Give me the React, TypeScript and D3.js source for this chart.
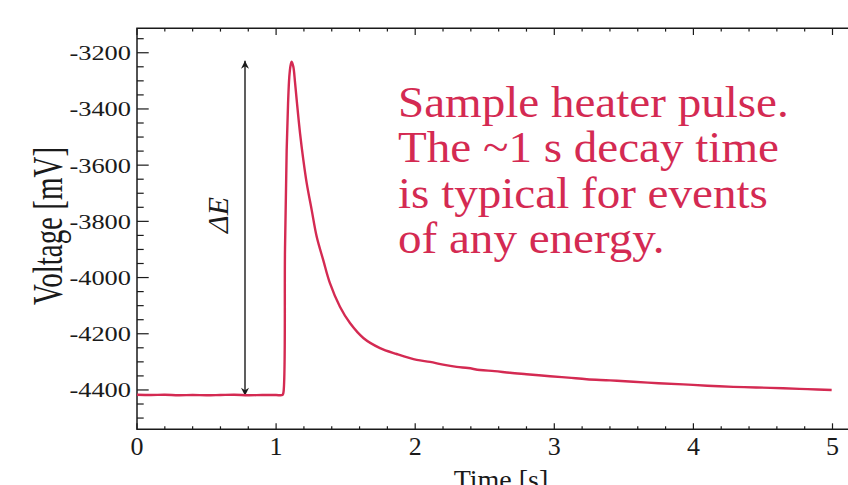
import { useEffect, useRef } from 'react'
import * as d3 from 'd3'

// heater pulse trace
const timeS = [
  0, 0.1, 0.2, 0.3, 0.4, 0.5, 0.6, 0.7, 0.8, 0.9, 1.0, 1.045,
  1.052, 1.064, 1.076, 1.086, 1.095, 1.104, 1.112, 1.124, 1.136, 1.148, 1.172, 1.196,
  1.22, 1.256, 1.292, 1.339, 1.387, 1.459, 1.531, 1.627, 1.747, 1.867, 2.011, 2.107,
  2.2, 2.298, 2.38, 2.466, 2.57, 2.682, 2.8, 2.969, 3.1, 3.233, 3.4, 3.568,
  3.75, 3.927, 4.1, 4.287, 4.45, 4.646, 4.82, 4.994,
]
const voltageMV = [
  -4417, -4418, -4417, -4419, -4418, -4419, -4418, -4417, -4419, -4418, -4418, -4418,
  -4411, -3900, -3546, -3380, -3285, -3245, -3232, -3250, -3305, -3368, -3486, -3582,
  -3664, -3760, -3855, -3938, -4020, -4104, -4162, -4215, -4251, -4272, -4293, -4300,
  -4310, -4318, -4322, -4329, -4333, -4339, -4344, -4351, -4356, -4362, -4366, -4371,
  -4376, -4380, -4385, -4389, -4391, -4394, -4397, -4400,
]

const xTicks = [0, 1, 2, 3, 4, 5]
const yTicks = [-4400, -4200, -4000, -3800, -3600, -3400, -3200]
const noteLines = [
  'Sample heater pulse.',
  'The ~1 s decay time',
  'is typical for events',
  'of any energy.',
]

const RED = '#d42a52'
const INK = '#1a1a1a'
const FONT = '"Liberation Serif", "Times New Roman", serif'

export default function App() {
  const ref = useRef<SVGSVGElement>(null)
  const width = 848
  const height = 485

  useEffect(() => {
    const svg = d3.select(ref.current)
    svg.selectAll('*').remove()

    const left = 137, top = 28.3, bottom = 429.3
    const x = d3.scaleLinear().domain([0, 5.2]).range([left, left + 5.2 * 139.1])
    const y = d3.scaleLinear().domain([-4540, -3113]).range([bottom, top])
    const right = x(5.2)

    const g = svg.append('g')

    // frame (left, bottom, top)
    g.append('path')
      .attr('d', `M${right},${top}H${left}V${bottom}H${right}`)
      .attr('fill', 'none').attr('stroke', INK).attr('stroke-width', 1.5)

    // x ticks, bottom and top, minor every 0.2
    const xMinor = d3.range(0, 5.2001, 0.2).map(v => +v.toFixed(1))
    xMinor.forEach(v => {
      const major = Math.abs(v - Math.round(v)) < 1e-6
      const px = x(v)
      g.append('line').attr('x1', px).attr('x2', px)
        .attr('y1', bottom).attr('y2', bottom - (major ? 6 : 3))
        .attr('stroke', INK).attr('stroke-width', 1.2)
      g.append('line').attr('x1', px).attr('x2', px)
        .attr('y1', top).attr('y2', top + (major ? 6.7 : 3.3))
        .attr('stroke', INK).attr('stroke-width', 1.2)
    })
    xTicks.forEach(v => {
      g.append('text')
        .attr('x', x(v)).attr('y', 455)
        .attr('text-anchor', 'middle')
        .style('font-family', FONT).style('font-size', '26px').style('fill', INK)
        .text(v)
    })

    // y ticks, minor every 50 mV
    d3.range(-4500, -3100, 50).forEach(v => {
      const major = v % 200 === 0
      const py = y(v)
      g.append('line').attr('x1', left).attr('x2', left + (major ? 11.7 : 6.7))
        .attr('y1', py).attr('y2', py)
        .attr('stroke', INK).attr('stroke-width', 1.2)
    })
    yTicks.forEach(v => {
      g.append('text')
        .attr('transform', `translate(131,${y(v) + 7.5}) scale(1.2,1)`)
        .attr('text-anchor', 'end')
        .style('font-family', FONT).style('font-size', '22px').style('fill', INK)
        .text(v)
    })

    // axis titles
    g.append('text')
      .attr('transform', `translate(62,226) scale(1.45,1) rotate(-90)`)
      .attr('text-anchor', 'middle')
      .style('font-family', FONT).style('font-size', '29px').style('fill', INK)
      .text('Voltage [mV]')
    g.append('text')
      .attr('x', 501).attr('y', 489)
      .attr('text-anchor', 'middle')
      .style('font-family', FONT).style('font-size', '28px').style('fill', INK)
      .text('Time [s]')

    // ΔE double arrow, from baseline to peak
    const defs = svg.append('defs')
    defs.append('marker')
      .attr('id', 'head').attr('viewBox', '0 0 10 10')
      .attr('refX', 10).attr('refY', 5)
      .attr('markerWidth', 10).attr('markerHeight', 8)
      .attr('markerUnits', 'userSpaceOnUse')
      .attr('orient', 'auto-start-reverse')
      .append('path').attr('d', 'M0,0L10,5L0,10L3,5Z').attr('fill', INK)
    const baseV = voltageMV[0]
    const peakV = d3.max(voltageMV) as number
    g.append('line')
      .attr('x1', 245).attr('x2', 245)
      .attr('y1', y(baseV) + 1).attr('y2', y(peakV) - 1)
      .attr('stroke', INK).attr('stroke-width', 1.4)
      .attr('marker-start', 'url(#head)').attr('marker-end', 'url(#head)')
    g.append('text')
      .attr('transform', 'translate(228,215) rotate(-90)')
      .attr('text-anchor', 'middle')
      .style('font-family', FONT).style('font-style', 'italic')
      .style('font-size', '30px').style('fill', INK)
      .text('ΔE')

    // trace
    const line = d3.line<number>()
      .x((_, i) => x(timeS[i]))
      .y(d => y(d))
      .curve(d3.curveCatmullRom.alpha(0.5))
    g.append('path')
      .datum(voltageMV)
      .attr('d', line)
      .attr('fill', 'none').attr('stroke', RED).attr('stroke-width', 2.4)
      .attr('stroke-linejoin', 'round')

    // note
    const note = g.append('text')
      .attr('transform', 'translate(398,0) scale(1.07,1)')
      .style('font-family', FONT).style('font-size', '44px').style('fill', RED)
    noteLines.forEach((t, i) => {
      note.append('tspan').attr('x', 0).attr('y', 117 + i * 45.3).text(t)
    })
  }, [])

  return (
    <svg ref={ref} width={width} height={height}
      style={{ position: 'absolute', left: 0, top: 0, background: '#fff' }} />
  )
}
